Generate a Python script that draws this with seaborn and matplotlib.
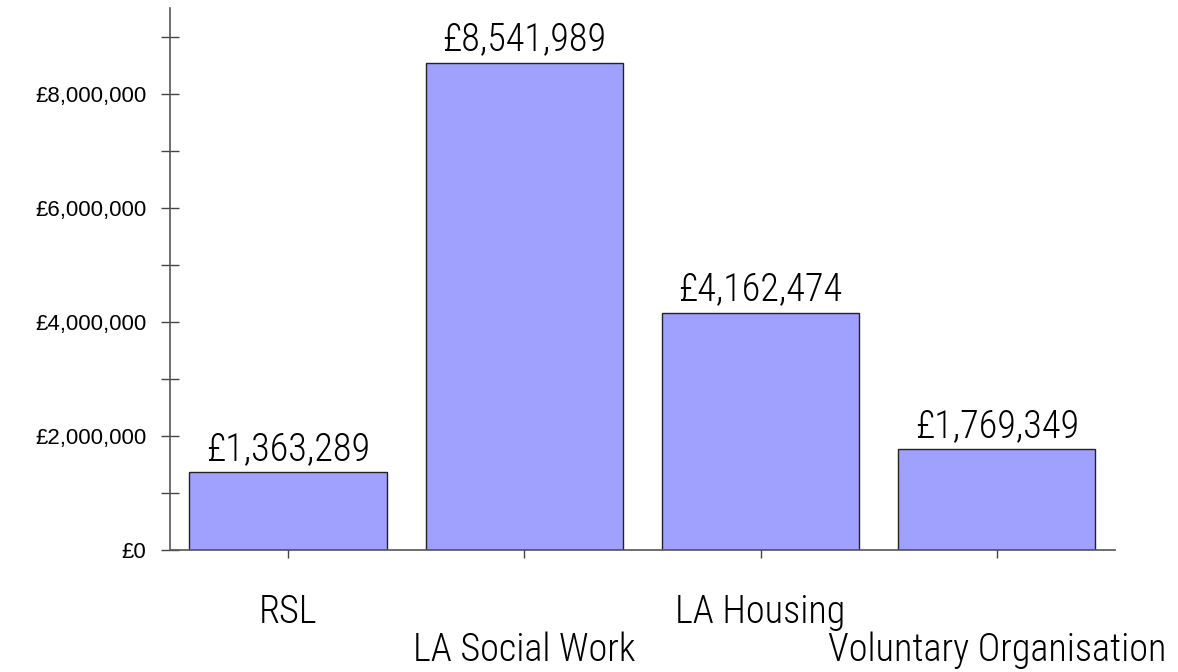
import numpy as np
import pandas as pd
import seaborn as sns
import matplotlib.pyplot as plt
from matplotlib.ticker import FuncFormatter, MultipleLocator

# data
categories = ["RSL", "LA Social Work", "LA Housing", "Voluntary Organisation"]
amounts = [1363289, 8541989, 4162474, 1769349]

df = pd.DataFrame({"category": categories, "amount": amounts})

sns.set_style("white")
plt.rcParams["font.family"] = ["Liberation Sans", "DejaVu Sans"]
plt.rcParams["text.color"] = "black"
big_font = ["Roboto Condensed", "Liberation Sans", "DejaVu Sans"]

fig = plt.figure(figsize=(11.78, 6.72), dpi=100)
ax = fig.add_axes([0.1443, 0.1815, 0.8022, 0.8065])

sns.barplot(data=df, x="category", y="amount", color="#a0a0ff", saturation=1,
            width=0.835, edgecolor="#222222", linewidth=1.0, ax=ax)

ax.set_xlim(-0.5, 3.5)
ax.set_ylim(0, 9.5e6)
ax.yaxis.set_major_locator(MultipleLocator(2e6))
ax.yaxis.set_minor_locator(MultipleLocator(1e6))
ax.yaxis.set_major_formatter(FuncFormatter(lambda v, p: f"£{v:,.0f}"))

for s in ["top", "right"]:
    ax.spines[s].set_visible(False)
for s in ["left", "bottom"]:
    ax.spines[s].set_color("#555555")
    ax.spines[s].set_linewidth(1.2)

ax.tick_params(axis="y", which="both", direction="inout", length=13, width=1,
               color="#444444", labelsize=16, labelcolor="black", pad=10.5, left=True)
ax.tick_params(axis="x", direction="inout", length=12, width=1,
               color="#444444", labelcolor="black", pad=25, bottom=True)

ax.set_xlabel("")
ax.set_ylabel("")

ax.bar_label(ax.containers[0], labels=[f"£{v:,}" for v in amounts],
             padding=3, fontsize=27.5, family=big_font, weight="light", color="black")

ax.set_xticks(range(len(categories)))
ax.set_xticklabels(categories, fontsize=27.5, family=big_font, weight="light")
for i, lbl in enumerate(ax.get_xticklabels()):
    if i % 2 == 1:
        lbl.set_y(-0.07)

fig.savefig("out.png", dpi=100)
